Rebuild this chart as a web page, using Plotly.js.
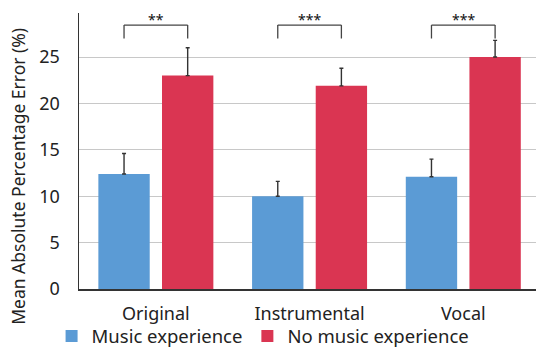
<!DOCTYPE html>
<html>
<head>
<meta charset="utf-8">
<script src="https://cdn.plot.ly/plotly-3.0.1.min.js"></script>
<style>
html,body{margin:0;padding:0;background:#fff;}
#chart{width:536px;height:347px;}
</style>
</head>
<body>
<div id="chart"></div>
<script>
// ---- data ----
const categories = ['Original', 'Instrumental', 'Vocal'];
const seriesNames = ['Music experience', 'No music experience'];
const musicExperience = [12.4, 10.0, 12.1];
const musicExperienceErr = [2.2, 1.6, 1.9];
const noMusicExperience = [23.0, 21.9, 25.0];
const noMusicExperienceErr = [3.0, 1.9, 1.8];
const significance = ['**', '***', '***'];
const bracketTop = 28.45;
const bracketTip = 27.0;
const yTicks = [0, 5, 10, 15, 20, 25];

// ---- style ----
const FONT = '"Noto Sans", sans-serif';
const BLUE = '#5b9bd5';
const RED = '#da3552';
const bargap = 0.172;
const bargroupgap = 0.193;
const halfSlot = (1 - bargap) / 4;

const zeros = categories.map(() => 0);
const errStyle = {type: 'data', symmetric: false, arrayminus: zeros, color: '#333', thickness: 1.4, width: 2};

const traces = [
  {type: 'bar', name: seriesNames[0], x: categories, y: musicExperience,
   marker: {color: BLUE}, error_y: Object.assign({array: musicExperienceErr}, errStyle)},
  {type: 'bar', name: seriesNames[1], x: categories, y: noMusicExperience,
   marker: {color: RED}, error_y: Object.assign({array: noMusicExperienceErr}, errStyle)}
];

const shapes = [];
const annotations = [];
categories.forEach((c, i) => {
  const xl = i - halfSlot, xr = i + halfSlot;
  const ln = {color: '#444', width: 1.3};
  shapes.push({type: 'line', xref: 'x', yref: 'y', x0: xl, x1: xl, y0: bracketTip, y1: bracketTop, line: ln});
  shapes.push({type: 'line', xref: 'x', yref: 'y', x0: xl, x1: xr, y0: bracketTop, y1: bracketTop, line: ln});
  shapes.push({type: 'line', xref: 'x', yref: 'y', x0: xr, x1: xr, y0: bracketTip, y1: bracketTop, line: ln});
  annotations.push({xref: 'x', yref: 'y', x: i, y: bracketTop, text: significance[i], showarrow: false,
    yanchor: 'bottom', yshift: -6, font: {family: FONT, size: 14, color: '#111'}});
});
annotations.push({xref: 'paper', yref: 'paper', x: -0.1335, y: 0.41, textangle: -90,
  text: 'Mean Absolute Percentage Error (%)', showarrow: false, xanchor: 'center', yanchor: 'middle',
  font: {family: FONT, size: 17.5, color: '#222'}});

const layout = {
  width: 536, height: 347,
  margin: {l: 79, r: 0, t: 13, b: 58, autoexpand: false},
  paper_bgcolor: '#fff', plot_bgcolor: '#fff',
  barmode: 'group', bargap: bargap, bargroupgap: bargroupgap,
  font: {family: FONT, color: '#222'},
  showlegend: true,
  legend: {orientation: 'h', x: -0.06, xanchor: 'left', y: -0.103, yanchor: 'top',
    font: {family: FONT, size: 18.5, color: '#222'}, itemwidth: 30, tracegroupgap: 0,
    bgcolor: 'rgba(0,0,0,0)'},
  xaxis: {type: 'category', range: [-0.5, 2.473], showgrid: false, zeroline: false,
    showline: true, linecolor: '#333', linewidth: 1.5, ticks: '', ticklabelstandoff: 8,
    tickfont: {family: FONT, size: 18, color: '#222'}},
  yaxis: {range: [0, 29.75], tickvals: yTicks, showgrid: true, gridcolor: '#c8c8c8', gridwidth: 1,
    zeroline: false, showline: true, linecolor: '#333', linewidth: 1.5, ticks: '', ticklabelstandoff: 14,
    tickfont: {family: FONT, size: 18, color: '#222'}},
  shapes: shapes,
  annotations: annotations
};

Plotly.newPlot('chart', traces, layout, {staticPlot: true, displayModeBar: false});
</script>
</body>
</html>
